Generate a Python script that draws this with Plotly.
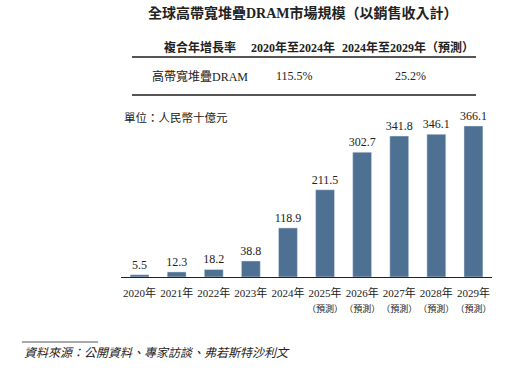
import plotly.graph_objects as go

years = ["2020年", "2021年", "2022年", "2023年", "2024年", "2025年", "2026年", "2027年", "2028年", "2029年"]
forecast = [False, False, False, False, False, True, True, True, True, True]
values = [5.5, 12.3, 18.2, 38.8, 118.9, 211.5, 302.7, 341.8, 346.1, 366.1]
value_labels = ["5.5", "12.3", "18.2", "38.8", "118.9", "211.5", "302.7", "341.8", "346.1", "366.1"]

title_text = "全球高帶寬堆疊DRAM市場規模（以銷售收入計）"
table_header = ["複合年增長率", "2020年至2024年", "2024年至2029年（預測）"]
table_row = ["高帶寬堆疊DRAM", "115.5%", "25.2%"]
unit_text = "單位：人民幣十億元"
source_text = "資料來源：公開資料、專家訪談、弗若斯特沙利文"

FONT = "Liberation Serif, Noto Sans CJK TC, serif"
W, H = 527, 371
L, R, T, B = 121, 492, 120, 277
BAR = "#4E7092"

def px(x):
    return (x - L) / (R - L)

def py(y):
    return (B - y) / (B - T)

ticktext = [y + ("<br><span style='font-size:9px'>（預測）</span>" if f else "") for y, f in zip(years, forecast)]

fig = go.Figure(go.Bar(
    x=years, y=values, marker_color=BAR, text=value_labels,
    textposition="outside", textfont=dict(size=12, color="#222", family=FONT),
    cliponaxis=False, width=0.51, constraintext="none", hoverinfo="skip",
))

fig.update_layout(
    width=W, height=H, plot_bgcolor="white", paper_bgcolor="white",
    margin=dict(l=L, r=W - R, t=T, b=H - B),
    showlegend=False, font=dict(family=FONT, color="#222"),
    xaxis=dict(tickmode="array", tickvals=years, ticktext=ticktext, tickangle=0,
               automargin=False, ticklabelstandoff=6,
               showline=True, linecolor="#222", linewidth=1, ticks="",
               tickfont=dict(size=11, family=FONT, color="#222")),
    yaxis=dict(range=[0, 380.6], visible=False, showgrid=False),
)

ann = []
ann.append(dict(text="<b>" + title_text + "</b>", x=px(303), y=py(13), font=dict(size=14, family=FONT, color="#222")))
hx = [200, 293, 408]
for t, x in zip(table_header, hx):
    ann.append(dict(text="<b>" + t + "</b>", x=px(x), y=py(47), font=dict(size=12, family=FONT, color="#222")))
rx = [200, 294, 410]
for t, x in zip(table_row, rx):
    ann.append(dict(text=t, x=px(x), y=py(76), font=dict(size=12, family=FONT, color="#222")))
ann.append(dict(text=unit_text, x=px(122), y=py(117), xanchor="left", font=dict(size=11.5, family=FONT, color="#222")))
ann.append(dict(text="<i>" + source_text + "</i>", x=px(22), y=py(353), xanchor="left", font=dict(size=12, family=FONT, color="#222")))

for a in ann:
    a.setdefault("xanchor", "center")
    fig.add_annotation(xref="paper", yref="paper", yanchor="middle", showarrow=False, **a)

for yline in [57, 95]:
    fig.add_shape(type="line", xref="paper", yref="paper", x0=px(132), x1=px(476), y0=py(yline), y1=py(yline),
                  line=dict(color="#555", width=2))
fig.add_shape(type="line", xref="paper", yref="paper", x0=px(22), x1=px(98), y0=py(342), y1=py(342),
              line=dict(color="#555", width=1))

fig.write_html("out.html", config={"displayModeBar": False},
               post_script="document.body.style.margin='0';")
